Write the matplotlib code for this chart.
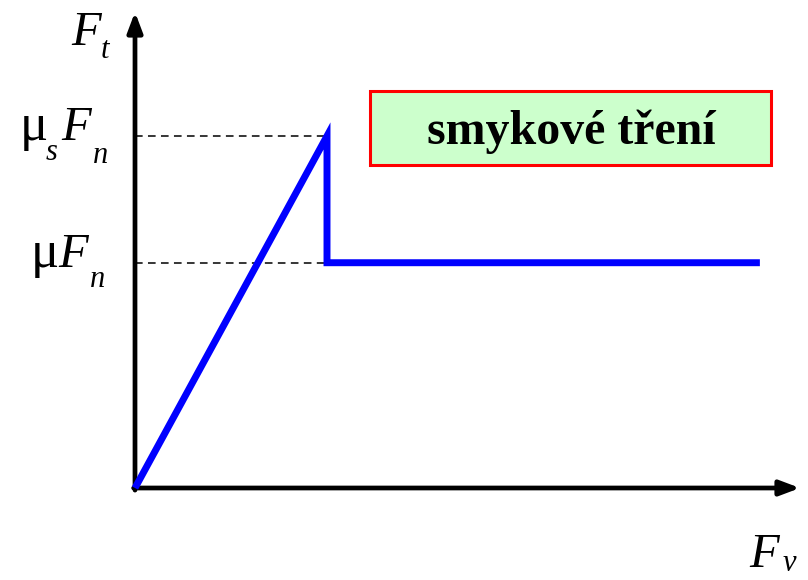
import matplotlib
matplotlib.use("Agg")
import matplotlib.pyplot as plt
from matplotlib.patches import Rectangle

# Data: tangential friction force Ft vs driving force Fv
fv = [0.0, 0.55, 0.55, 1.79]
ft = [0.0, 1.0, 0.64, 0.64]
mu_s_level = 1.0
mu_level = 0.64
fv_peak = 0.55
title_text = 'smykové tření'

SERIF = 'Liberation Serif'
W, H = 808, 580
fig = plt.figure(figsize=(W / 100, H / 100), dpi=100)
ox, oy = 135, 488
tipx, tipy = 800, 12
ax = fig.add_axes([ox / W, (H - oy) / H, (tipx - ox) / W, (oy - tipy) / H])
xscale = 192 / fv_peak
yscale = 352.0
xmax = (tipx - ox) / xscale
ymax = (oy - tipy) / yscale
ax.set_xlim(0, xmax)
ax.set_ylim(0, ymax)
ax.axis('off')

# axes arrows
arrow_kw = dict(arrowstyle='-|>,head_length=0.85,head_width=0.32', lw=3.4, color='black',
                mutation_scale=14, shrinkA=0, shrinkB=0)
ax.annotate('', xy=(xmax, 0), xytext=(-0.004, 0), arrowprops=arrow_kw, annotation_clip=False)
ax.annotate('', xy=(0, ymax), xytext=(0, -0.006), arrowprops=arrow_kw, annotation_clip=False)

# dashed guide lines
ax.plot([0, fv_peak], [mu_s_level, mu_s_level], color='black', lw=1.1, dashes=(5, 3.5), clip_on=False)
ax.plot([0, fv_peak], [mu_level, mu_level], color='black', lw=1.1, dashes=(5, 3.5), clip_on=False)

# friction curve
ax.plot(fv, ft, color='#0000FF', lw=5, solid_joinstyle='miter', solid_capstyle='butt',
        clip_on=False, zorder=5)


def piece(x, yb, s, size, italic=True, va='baseline'):
    fig.text(x / W, 1 - yb / H, s, ha='left', va=va, fontsize=size,
             family=SERIF, style='italic' if italic else 'normal')


BIG, SMALL, MU = 35, 22, 38
# F_t
piece(71, 45, 'F', BIG)
piece(101, 58, 't', SMALL)
# mu_s F_n
piece(20, 140, 'μ', MU, italic=False)
piece(46, 160, 's', SMALL)
piece(61, 140, 'F', BIG)
piece(93, 163, 'n', SMALL)
# mu F_n
piece(31, 267, 'μ', MU, italic=False)
piece(58, 267, 'F', BIG)
piece(90, 287, 'n', SMALL)
# F_v
piece(749, 567, 'F', BIG)
piece(783, 578, 'v', SMALL, va='bottom')

# title box
bx0, by0, bx1, by1 = 370, 91, 771, 165
fig.patches.append(Rectangle((bx0 / W, 1 - by1 / H), (bx1 - bx0) / W, (by1 - by0) / H,
                             transform=fig.transFigure, facecolor='#CCFFCC',
                             edgecolor='#FF0000', lw=2.2, zorder=1))
fig.text(571 / W, 1 - 144 / H, title_text, ha='center', va='baseline',
         fontsize=34.5, fontweight='bold', family=SERIF, zorder=2)

fig.savefig('out.png', dpi=100, facecolor='white')
